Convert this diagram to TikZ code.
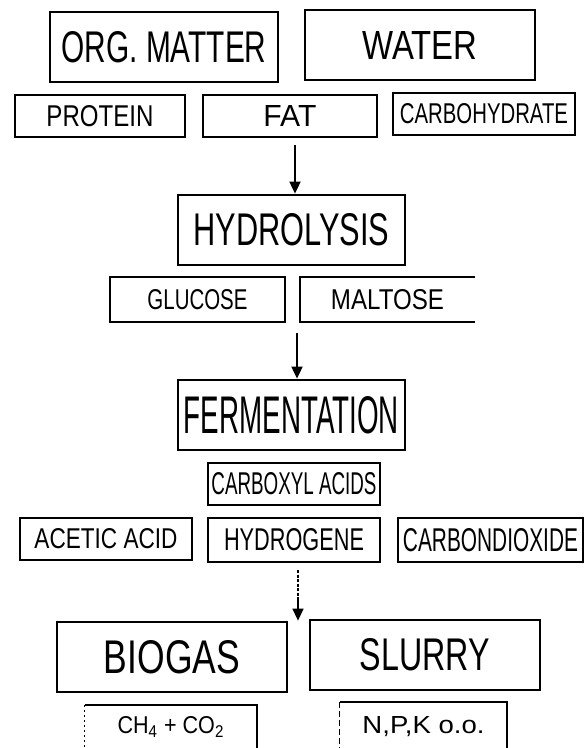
\documentclass[tikz,border=0pt]{standalone}
\usepackage{fontspec}
\setmainfont{Liberation Sans}
\usepackage{graphicx}
\usetikzlibrary{arrows.meta,calc}
\newcommand{\fitt}[3]{\resizebox{#1pt}{#2pt}{#3}}
\begin{document}
\begin{tikzpicture}[x=1pt,y=-1pt,
  bigbox/.style={draw, line width=2.8pt, inner sep=0pt},
  smallbox/.style={draw, line width=1.8pt, inner sep=0pt},
  openbox/.style={inner sep=0pt},
  edgeline/.style={line width=1.8pt},
  flow/.style={line width=1.8pt, -{Triangle[length=12pt,width=11pt]}}]
\useasboundingbox[fill=white] (0,0) rectangle (585,748);

% top row
\node[bigbox, minimum width=228pt, minimum height=70pt] (org) at (164,47) {\fitt{205}{31}{ORG. MATTER}};
\node[bigbox, minimum width=230pt, minimum height=70pt] (water) at (420,45) {\fitt{115}{28}{WATER}\hspace{20pt}};

\node[smallbox, minimum width=170pt, minimum height=42pt] (protein) at (100,116) {\fitt{107}{21}{PROTEIN}};
\node[smallbox, minimum width=174pt, minimum height=42pt] (fat) at (290,116) {\fitt{53}{21}{FAT}};
\node[smallbox, minimum width=182pt, minimum height=42pt] (carbo) at (484,114) {\fitt{168}{20}{CARBOHYDRATE}};

% hydrolysis
\node[bigbox, minimum width=227pt, minimum height=70pt] (hydro) at (291.5,230) {\fitt{196}{32}{HYDROLYSIS}};
\node[smallbox, minimum width=175pt, minimum height=45pt] (glucose) at (197.5,299.5) {\fitt{100}{20}{GLUCOSE}};
\node[openbox, minimum width=175pt, minimum height=45pt] (maltose) at (387.5,299.5) {\fitt{113}{20}{MALTOSE}};
\draw[edgeline] (maltose.north east) -- (maltose.north west) -- (maltose.south west) -- (maltose.south east);

% fermentation
\node[bigbox, minimum width=227pt, minimum height=70pt] (ferm) at (291.5,415) {\fitt{215}{37}{FERMENTATION}};
\node[smallbox, minimum width=172pt, minimum height=42pt] (carboxyl) at (294,484) {\fitt{165}{22}{CARBOXYL ACIDS}};
\node[smallbox, minimum width=172pt, minimum height=42pt] (acetic) at (106,539) {\fitt{143}{20}{ACETIC ACID}};
\node[smallbox, minimum width=172pt, minimum height=44pt] (hydrogene) at (294,540) {\fitt{140}{22}{HYDROGENE}};
\node[smallbox, minimum width=185pt, minimum height=44pt] (carbondi) at (490.5,540) {\fitt{175}{23}{CARBONDIOXIDE}};

% products
\node[bigbox, minimum width=230pt, minimum height=70pt] (biogas) at (172,657) {\fitt{136}{33}{BIOGAS}};
\node[bigbox, minimum width=230pt, minimum height=70pt] (slurry) at (425,655) {\fitt{130}{32}{SLURRY}\hspace{16pt}};

\node[openbox, minimum width=172pt, minimum height=44pt] (ch) at (171,727) {\fitt{107}{17}{CH\textsubscript{4} + CO\textsubscript{2}}};
\draw[edgeline] (ch.north west) -- (ch.north east) -- (ch.south east);
\draw[line width=1.2pt, dash pattern=on 2pt off 3pt] (ch.north west) -- (ch.south west);

\node[openbox, minimum width=167pt, minimum height=50pt] (npk) at (423.5,727) {\fitt{122}{17}{N,P,K o.o.}};
\draw[edgeline] (npk.north west) -- (npk.north east) -- (npk.south east);
\draw[line width=1.2pt, dash pattern=on 6pt off 3pt] (npk.north west) -- (npk.south west);

% arrows
\coordinate (a1) at (295,145);
\coordinate (a2) at (297,333);
\coordinate (a3) at (298,570);
\coordinate (a3m) at (298,597);
\draw[flow] (a1) -- (a1 |- hydro.north);
\draw[flow] (a2) -- (a2 |- ferm.north);
\draw[line width=1.4pt, dash pattern=on 3pt off 1.5pt] (a3) -- (a3m);
\draw[flow, line width=1.4pt] (a3m) -- (a3m |- biogas.north);
\end{tikzpicture}
\end{document}
